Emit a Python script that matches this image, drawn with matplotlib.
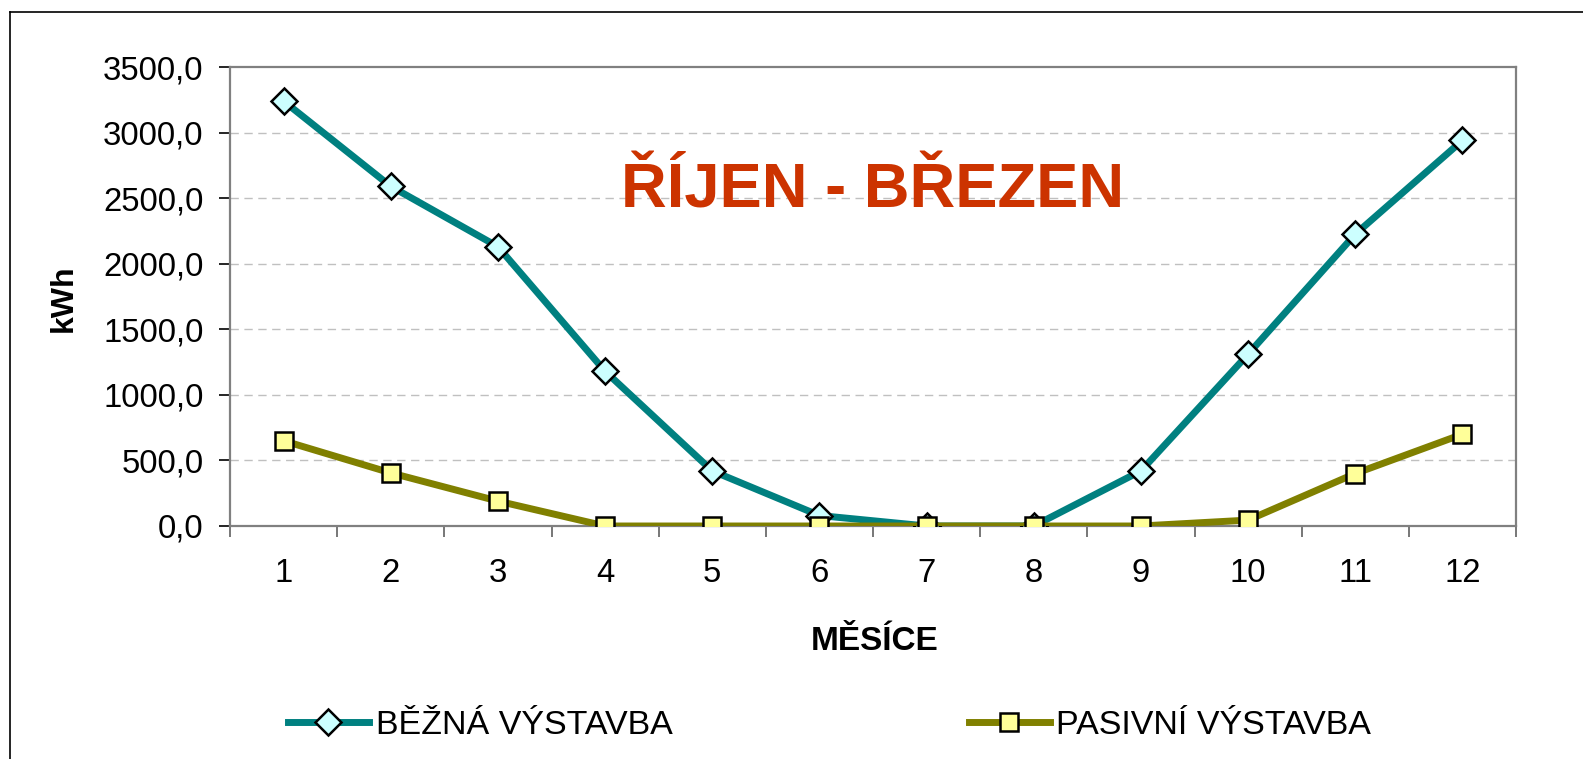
import matplotlib
matplotlib.use("Agg")
import matplotlib.pyplot as plt
from matplotlib.lines import Line2D
from matplotlib.ticker import FuncFormatter, FixedLocator

plt.rcParams["font.family"] = ["Liberation Sans", "DejaVu Sans"]

# ── data ──────────────────────────────────────────────────────────────────────
months = list(range(1, 13))
bezna = [3240, 2590, 2130, 1180, 420, 80, 0, 0, 420, 1310, 2225, 2940]
pasivni = [650, 405, 190, 0, 0, 0, 0, 0, 0, 45, 400, 700]
y_ticks = [0, 500, 1000, 1500, 2000, 2500, 3000, 3500]
title = "ŘÍJEN - BŘEZEN"
label_bezna = "BĚŽNÁ VÝSTAVBA"
label_pasivni = "PASIVNÍ VÝSTAVBA"

W, H = 1583, 759
fig = plt.figure(figsize=(W / 100, H / 100), dpi=100)
ax = fig.add_axes([230 / W, 1 - 526 / H, (1516 - 230) / W, (526 - 67) / H])

ax.plot(months, bezna, color="#008080", lw=5, marker="D", ms=13.5,
        mfc="#CCFFFF", mec="black", mew=1.8, label=label_bezna, zorder=3)
ax.plot(months, pasivni, color="#808000", lw=5, marker="s", ms=12.5,
        mfc="#FFFF99", mec="black", mew=1.8, label=label_pasivni, zorder=4)

ax.set_xlim(0.5, 12.5)
ax.set_ylim(0, 3500)
ax.yaxis.set_major_locator(FixedLocator(y_ticks))
ax.yaxis.set_major_formatter(FuncFormatter(lambda v, _: f"{v:.1f}".replace(".", ",")))
ax.xaxis.set_major_locator(FixedLocator(months))
ax.xaxis.set_minor_locator(FixedLocator([m + 0.5 for m in range(0, 13)]))

ax.tick_params(axis="y", direction="out", length=8, width=1.2, color="black",
               labelsize=23.7, pad=11)
ax.tick_params(axis="x", which="major", length=0, labelsize=23.7, pad=23)
ax.tick_params(axis="x", which="minor", direction="out", length=8, width=1.2,
               color="#606060")

for s in ax.spines.values():
    s.set_color("#808080")
    s.set_linewidth(1.6)

for v in y_ticks[1:-1]:
    ax.axhline(v, color="#C0C0C0", lw=1.0, ls=(0, (6, 4)), zorder=1)

fig.text(873 / W, 1 - 207 / H, title, color="#CC3300", fontsize=45.5,
         fontweight="bold", ha="center", va="baseline")
fig.text(64 / W, 1 - 298 / H, "kWh", rotation=90, fontsize=23,
         fontweight="bold", ha="center", va="center")
fig.text(875 / W, 1 - 650 / H, "MĚSÍCE", fontsize=24, fontweight="bold",
         ha="center", va="baseline")

fig.legend(loc="center left", bbox_to_anchor=(288 / W, 1 - 725 / H), ncol=2,
           frameon=False, fontsize=24.5, borderpad=0, borderaxespad=0,
           handlelength=2.38, handletextpad=0.2, columnspacing=8.7)

# outer chart frame (cropped on the right and bottom)
fig.add_artist(Line2D([10 / W, 1.0], [1 - 12 / H, 1 - 12 / H], color="black",
                      lw=1.2, transform=fig.transFigure))
fig.add_artist(Line2D([10 / W, 10 / W], [0.0, 1 - 12 / H], color="black",
                      lw=1.2, transform=fig.transFigure))

fig.savefig("out.png", dpi=100)
